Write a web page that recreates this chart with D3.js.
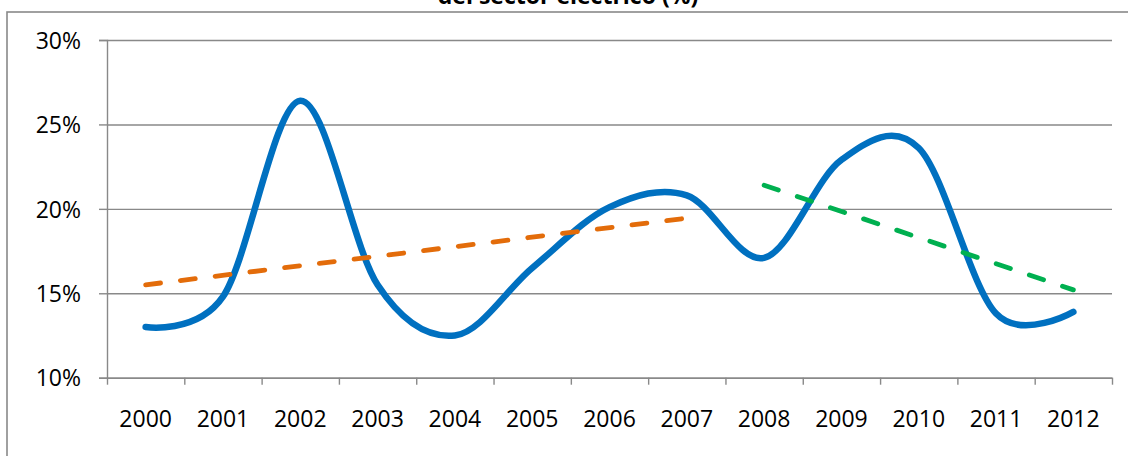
<!DOCTYPE html>
<html>
<head>
<meta charset="utf-8">
<script src="https://cdn.jsdelivr.net/npm/d3@7"></script>
<style>
  html, body { margin: 0; padding: 0; background: #fff; overflow: hidden; }
  text { font-family: "Open Sans", "DejaVu Sans", sans-serif; }
</style>
</head>
<body>
<svg id="chart" width="1128" height="456"></svg>
<script>
// Annual share (%) and the two partial linear trends
const years = ["2000","2001","2002","2003","2004","2005","2006","2007","2008","2009","2010","2011","2012"];
const share = [13.0, 14.8, 26.4, 15.5, 12.5, 16.5, 20.1, 20.8, 17.1, 22.9, 23.6, 13.8, 13.9];
const trendEarlyYears = ["2000", "2007"];
const trendEarly = [15.5, 19.45];
const trendLateYears = ["2008", "2012"];
const trendLate = [21.4, 15.2];
const yTicks = [10, 15, 20, 25, 30];
const titleLine = "del sector eléctrico (%)";

const svg = d3.select("#chart");
const plot = { left: 107, right: 1112, top: 40, bottom: 377.7 };
const gridColor = "#898989";

const x = d3.scaleBand().domain(years).range([plot.left, plot.right]).padding(0);
const y = d3.scaleLinear().domain([10, 30]).range([plot.bottom, plot.top]);
const xEdges = d3.scaleLinear().domain([0, years.length]).range([plot.left, plot.right]);
const cx = d => x(d) + x.bandwidth() / 2;

// chart area frame
svg.append("rect")
  .attr("x", 7).attr("y", 12)
  .attr("width", 1140).attr("height", 470)
  .attr("fill", "none").attr("stroke", gridColor).attr("stroke-width", 1.6);

// title (second line of the heading)
svg.append("text")
  .attr("x", 568).attr("y", 4)
  .attr("text-anchor", "middle")
  .attr("font-size", 23).attr("font-weight", "bold").attr("fill", "#000")
  .text(titleLine);

// horizontal gridlines
svg.append("g")
  .attr("transform", `translate(${plot.left},0)`)
  .call(d3.axisLeft(y).tickValues(yTicks).tickSize(-(plot.right - plot.left)).tickFormat(""))
  .call(g => g.select(".domain").remove())
  .call(g => g.selectAll("line").attr("stroke", gridColor).attr("stroke-width", 1.4));

// y axis with labels
svg.append("g")
  .attr("transform", `translate(${plot.left},0)`)
  .call(d3.axisLeft(y).tickValues(yTicks).tickSize(8).tickPadding(18).tickFormat(d => d + "%"))
  .call(g => g.select(".domain").attr("stroke", gridColor).attr("stroke-width", 1.4))
  .call(g => g.selectAll("line").attr("stroke", gridColor).attr("stroke-width", 1.4))
  .call(g => g.selectAll("text").attr("font-size", 23).attr("fill", "#000")
    .attr("font-family", "Open Sans").attr("dy", "0.36em"));

// x axis: boundary ticks
svg.append("g")
  .attr("transform", `translate(0,${plot.bottom})`)
  .call(d3.axisBottom(xEdges).ticks(years.length).tickSize(7).tickFormat("").tickSizeOuter(0))
  .call(g => g.select(".domain").attr("stroke", gridColor).attr("stroke-width", 1.4))
  .call(g => g.selectAll("line").attr("stroke", gridColor).attr("stroke-width", 1.4));

// x axis: category labels
svg.append("g")
  .attr("transform", `translate(0,${plot.bottom})`)
  .call(d3.axisBottom(x).tickSize(0).tickPadding(33))
  .call(g => g.select(".domain").remove())
  .call(g => g.selectAll("text").attr("font-size", 23).attr("fill", "#000")
    .attr("font-family", "Open Sans"));

// smoothed share line
const line = d3.line()
  .x(d => cx(d.year))
  .y(d => y(d.value))
  .curve(d3.curveCardinal.tension(0));

svg.append("path")
  .datum(years.map((yr, i) => ({ year: yr, value: share[i] })))
  .attr("d", line)
  .attr("fill", "none")
  .attr("stroke", "#0070C0")
  .attr("stroke-width", 6.5)
  .attr("stroke-linecap", "round")
  .attr("stroke-linejoin", "round");

// dashed trend lines
const straight = d3.line().x(d => cx(d.year)).y(d => y(d.value));
function trend(yrs, vals, color) {
  svg.append("path")
    .datum(yrs.map((yr, i) => ({ year: yr, value: vals[i] })))
    .attr("d", straight)
    .attr("fill", "none")
    .attr("stroke", color)
    .attr("stroke-width", 4.8)
    .attr("stroke-linecap", "round")
    .attr("stroke-dasharray", "15 20");
}
trend(trendEarlyYears, trendEarly, "#E36C0A");
trend(trendLateYears, trendLate, "#00B050");
</script>
</body>
</html>
